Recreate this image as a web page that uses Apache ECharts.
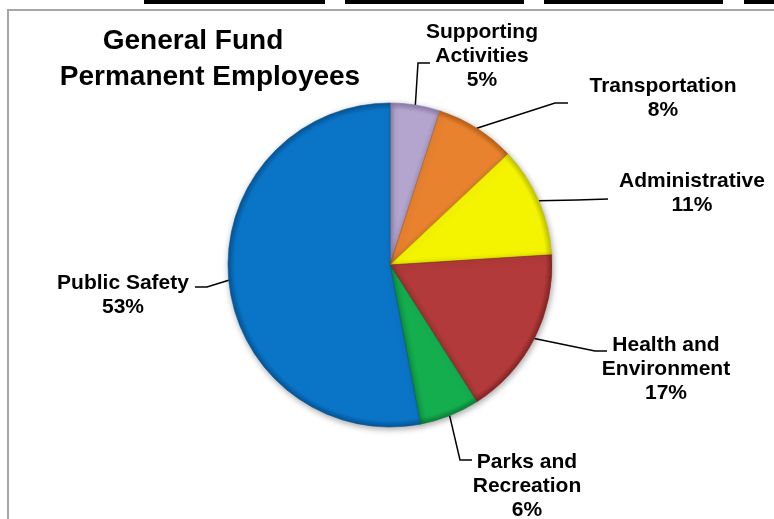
<!DOCTYPE html>
<html>
<head>
<meta charset="utf-8">
<script src="https://cdn.jsdelivr.net/npm/echarts@6/dist/echarts.min.js"></script>
<style>
html,body{margin:0;padding:0;background:#fff;}
#chart{width:774px;height:519px;}
</style>
</head>
<body>
<div id="chart"></div>
<script>
// ---- data ----
var categories = ['Supporting\nActivities', 'Transportation', 'Administrative', 'Health and\nEnvironment', 'Parks and\nRecreation', 'Public Safety'];
var shares = [5, 8, 11, 17, 6, 53];
var colors = ['#b4a5cf', '#e8822e', '#f4f400', '#b23a3a', '#14ae4f', '#0a74c6'];
var edgeColors = ['#8c7cab', '#b85f17', '#c4c400', '#852424', '#0b7f37', '#065596'];
var titleLines = ['General Fund', 'Permanent Employees'];

// label layout (positions only): text centre, leader elbow, leader end
var labelPos = [
  {x: 482, y: 56,  elbow: [418, 63],  end: [430, 63]},
  {x: 663, y: 98,  elbow: [555, 103], end: [568, 103]},
  {x: 692, y: 193, elbow: [577, 200], end: [608, 199]},
  {x: 666, y: 369, elbow: [595, 351], end: [607, 351]},
  {x: 527, y: 486, elbow: [460, 460], end: [472, 460]},
  {x: 123, y: 295, elbow: [207, 287], end: [195, 287]}
];

var cx = 390, cy = 265, R = 162;

var chart = echarts.init(document.getElementById('chart'), null, {renderer: 'canvas'});

var data = categories.map(function (c, i) {
  return {
    name: c,
    value: shares[i],
    itemStyle: {
      color: new echarts.graphic.RadialGradient(cx, cy, R, [
        {offset: 0, color: colors[i]},
        {offset: 0.9, color: colors[i]},
        {offset: 0.96, color: colors[i]},
        {offset: 1, color: edgeColors[i]}
      ], true),
      borderColor: edgeColors[i],
      borderWidth: 0.6
    }
  };
});

var titleStyle = {
  fontFamily: 'Liberation Sans, Arial, sans-serif',
  fontSize: 28,
  fontWeight: 'bold',
  color: '#000',
  lineHeight: 36
};

var option = {
  backgroundColor: '#ffffff',
  animation: false,
  title: [
    {text: titleLines[0], left: 193, top: 23, textAlign: 'center', textStyle: titleStyle, padding: 0},
    {text: titleLines[1], left: 210, top: 59, textAlign: 'center', textStyle: titleStyle, padding: 0}
  ],
  graphic: [
    {type: 'rect', silent: true, shape: {x: 8, y: 10, width: 800, height: 600},
     style: {fill: 'none', stroke: '#a6a6a6', lineWidth: 2}},
    {type: 'rect', silent: true, shape: {x: 144, y: 0, width: 181, height: 4}, style: {fill: '#000'}},
    {type: 'rect', silent: true, shape: {x: 345, y: 0, width: 179, height: 4}, style: {fill: '#000'}},
    {type: 'rect', silent: true, shape: {x: 544, y: 0, width: 179, height: 4}, style: {fill: '#000'}},
    {type: 'rect', silent: true, shape: {x: 744, y: 0, width: 40, height: 4}, style: {fill: '#000'}}
  ],
  series: [{
    type: 'pie',
    center: [cx, cy],
    radius: [0, R],
    startAngle: 90,
    clockwise: true,
    percentPrecision: 0,
    data: data,
    itemStyle: {
      shadowBlur: 6,
      shadowColor: 'rgba(0,0,0,0.35)',
      shadowOffsetX: 1,
      shadowOffsetY: 2
    },
    label: {
      show: true,
      position: 'outside',
      formatter: '{b}\n{d}%',
      fontFamily: 'Liberation Sans, Arial, sans-serif',
      fontSize: 21,
      fontWeight: 'bold',
      color: '#000',
      lineHeight: 24,
      align: 'center',
      padding: [0, 3]
    },
    labelLine: {
      show: true,
      length: 20,
      length2: 12,
      lineStyle: {color: '#000', width: 1.5}
    },
    labelLayout: function (p) {
      var q = labelPos[p.dataIndex];
      var out = {x: q.x, y: q.y, align: 'center', verticalAlign: 'middle'};
      if (p.labelLinePoints && p.labelLinePoints[0]) {
        out.labelLinePoints = [p.labelLinePoints[0], q.elbow, q.end];
      }
      return out;
    },
    emphasis: {disabled: true}
  }]
};
chart.setOption(option);
</script>
</body>
</html>
